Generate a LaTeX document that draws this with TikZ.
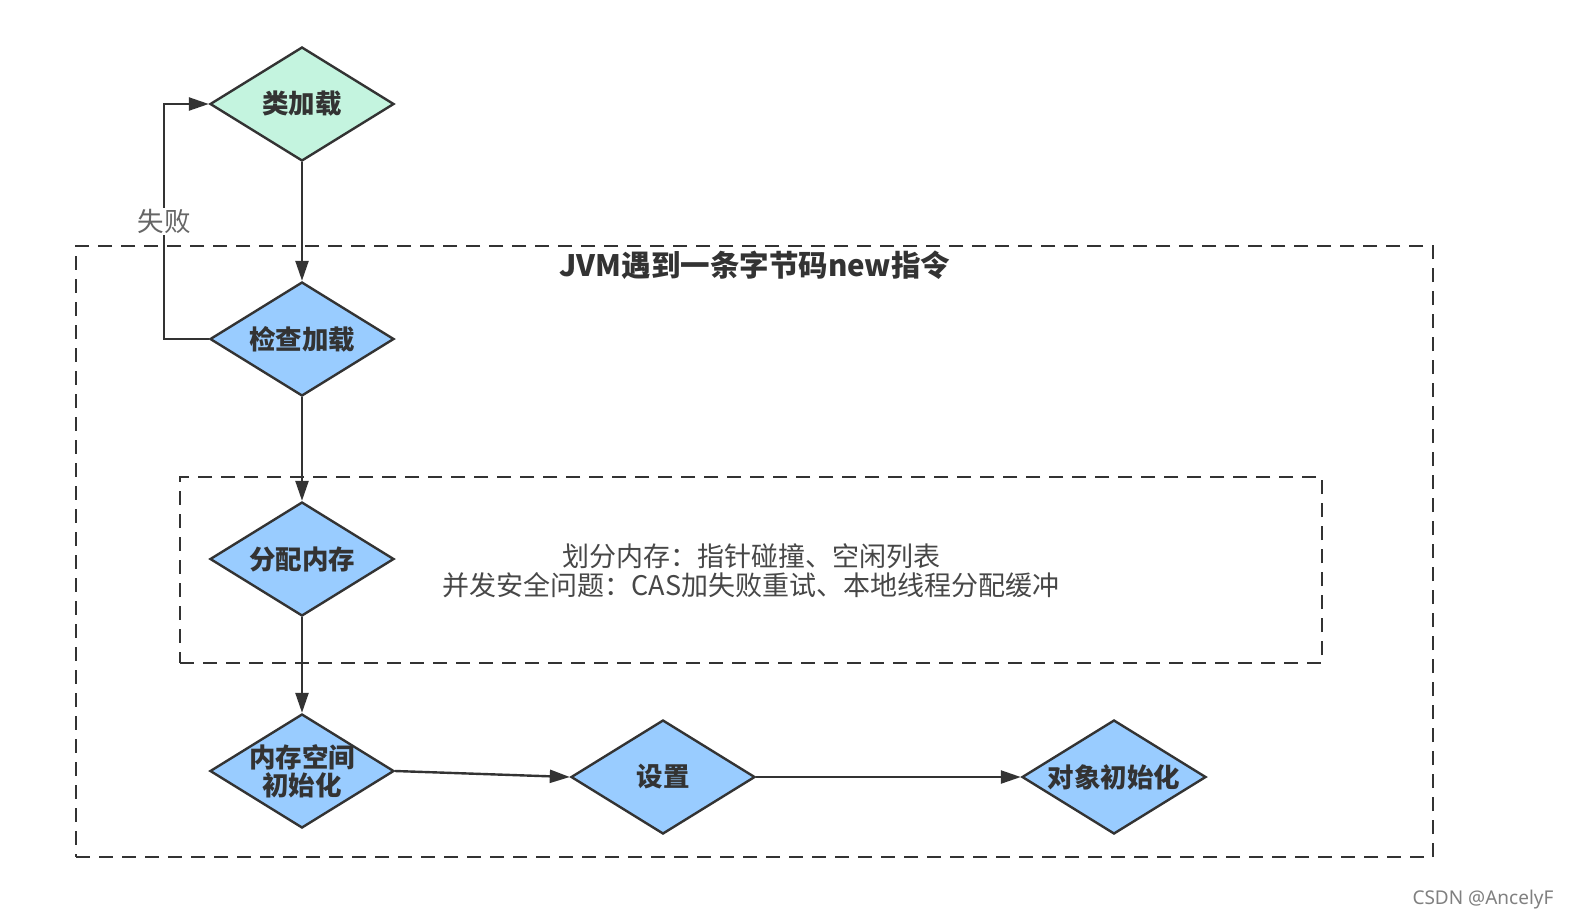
\documentclass[tikz,border=0pt]{standalone}
\usepackage{fontspec}
\setmainfont{Noto Sans CJK SC}
\newfontfamily\wmfont{Noto Sans}
\usetikzlibrary{shapes.geometric,arrows.meta}
\definecolor{linec}{HTML}{333333}
\definecolor{greenf}{HTML}{C4F4DF}
\definecolor{bluef}{HTML}{99CCFF}
\definecolor{txtc}{HTML}{333333}
\tikzset{
  dia/.style={diamond,draw=linec,line width=2.4pt,inner sep=0pt,minimum width=184pt,minimum height=114pt,fill=bluef},
  dlabel/.style={font=\fontsize{26.5}{28}\selectfont\bfseries,text=txtc,align=center,inner sep=0pt},
  conn/.style={draw=linec,line width=2.4pt,-{Triangle[length=20pt,width=13pt]}},
  dbox/.style={draw=linec,line width=2.4pt,dash pattern=on 14pt off 9pt},
}
\begin{document}
\begin{tikzpicture}[x=1pt,y=-1pt]
\useasboundingbox (0,0) rectangle (1570,922);
\fill[white] (0,0) rectangle (1570,922);
% dashed boxes
\node[dbox,minimum width=1357pt,minimum height=611pt,inner sep=0pt] (outer) at (754.5,551.5) {};
\node[dbox,minimum width=1142pt,minimum height=186pt,inner sep=0pt] (inner) at (751,570) {};
\node[font=\fontsize{29.5}{32}\selectfont\bfseries,text=txtc,inner sep=0pt] (title) at (755,265) {JVM遇到一条字节码new指令};
\node[font=\fontsize{27}{29}\selectfont,text=black!72,align=center,inner sep=0pt] (desc) at (751,571) {划分内存：指针碰撞、空闲列表\\并发安全问题：CAS加失败重试、本地线程分配缓冲};
% diamonds
\node[dia,fill=greenf] (n1) at (302,104) {};
\node[dia] (n2) at (302,339) {};
\node[dia] (n3) at (302,559) {};
\node[dia] (n4) at (302,771) {};
\node[dia] (n5) at (663,777) {};
\node[dia] (n6) at (1114,777) {};
\node[dlabel] (t1) at (n1) {类加载};
\node[dlabel] (t2) at (n2) {检查加载};
\node[dlabel] (t3) at (n3) {分配内存};
\node[dlabel] (t4) at (n4) {内存空间\\初始化};
\node[dlabel] (t5) at (n5) {设置};
\node[dlabel] (t6) at (n6) {对象初始化};
% connectors
\draw[conn] (n1.south) -- (n2.north);
\draw[conn] (n2.south) -- (n3.north);
\draw[conn] (n3.south) -- (n4.north);
\draw[conn] (n4.east) -- (n5.west);
\draw[conn] (n5.east) -- (n6.west);
\coordinate (lb) at (164,339);
\coordinate (lt) at (164,104);
\draw[conn] (n2.west) -- (lb) -- node[pos=0.5,fill=white,inner sep=1pt,font=\fontsize{26.5}{28}\selectfont,text=black!60] (fail) {失败} (lt) -- (n1.west);
\node[font=\wmfont\fontsize{19}{22}\selectfont,text=black!50,inner sep=0pt] (wm) at (1483,900) {CSDN @AncelyF};
\end{tikzpicture}
\end{document}
